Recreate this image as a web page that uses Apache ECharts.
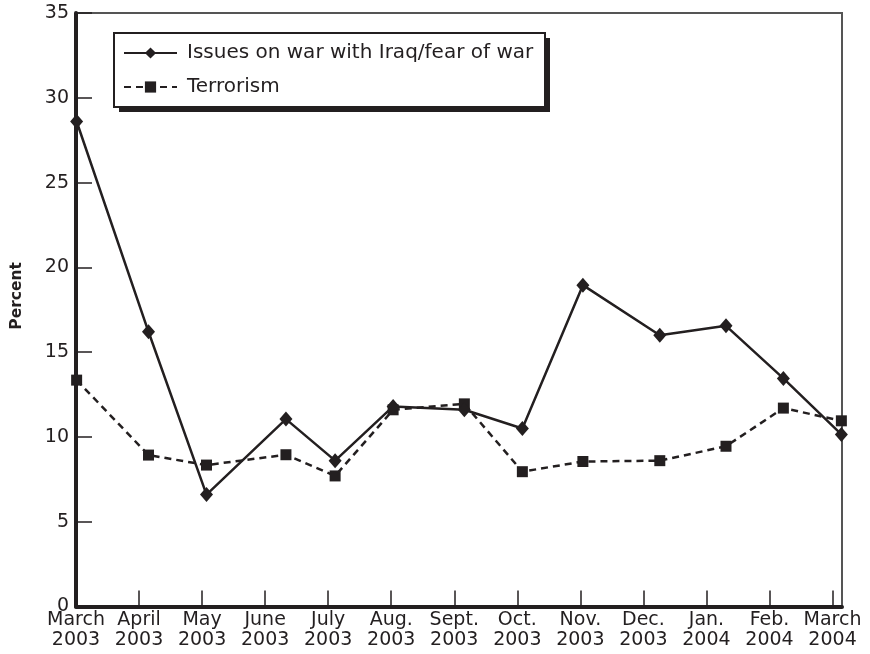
<!DOCTYPE html>
<html>
<head>
<meta charset="utf-8">
<script src="https://cdn.jsdelivr.net/npm/echarts@6/dist/echarts.min.js"></script>
<style>html,body{margin:0;padding:0;background:#fff;}#c{width:870px;height:654px;}</style>
</head>
<body>
<div id="c"></div>
<script>
// Tick labels (one per month tick, index 0..12)
const tickLabels = ['March\n2003','April\n2003','May\n2003','June\n2003','July\n2003','Aug.\n2003','Sept.\n2003','Oct.\n2003','Nov.\n2003','Dec.\n2003','Jan.\n2004','Feb.\n2004','March\n2004'];
// Survey positions along the month axis (month index, fractional = later in the month)
const surveyPos = [0.01, 1.15, 2.07, 3.33, 4.11, 5.03, 6.16, 7.08, 8.04, 9.26, 10.31, 11.22, 12.14];
// Series values (percent)
const iraqWar = [28.6, 16.2, 6.6, 11.05, 8.6, 11.8, 11.6, 10.5, 18.95, 16.0, 16.55, 13.45, 10.15];
const terrorism = [13.35, 8.93, 8.34, 8.95, 7.7, 11.6, 11.95, 7.95, 8.55, 8.6, 9.45, 11.7, 10.95];
const seriesNames = ['Issues on war with Iraq/fear of war', 'Terrorism'];
const yTicks = [0, 5, 10, 15, 20, 25, 30, 35];

const ink = '#231f20';
const font = 'DejaVu Sans';
const fs = 19;
const chart = echarts.init(document.getElementById('c'));
const pair = (xs, ys) => xs.map((x, i) => [x, ys[i]]);

chart.setOption({
  animation: false,
  backgroundColor: '#fff',
  textStyle: { fontFamily: font, color: ink },
  grid: { left: 76, right: 28, top: 13, bottom: 47.5, show: true, borderColor: '#555', borderWidth: 2, backgroundColor: 'transparent' },
  xAxis: {
    type: 'value', min: 0, max: 12.15, interval: 1,
    splitLine: { show: false },
    axisLine: { show: true, lineStyle: { color: ink, width: 4 } },
    axisTick: { show: true, inside: true, length: 16, lineStyle: { color: ink, width: 1.5 } },
    axisLabel: {
      margin: 4, fontSize: fs, lineHeight: 20, color: ink, fontFamily: font,
      showMaxLabel: false,
      formatter: v => (Math.abs(v - Math.round(v)) < 1e-6 ? (tickLabels[Math.round(v)] || '') : '')
    }
  },
  yAxis: {
    type: 'value', min: yTicks[0], max: yTicks[yTicks.length - 1], interval: 5,
    splitLine: { show: false },
    axisLine: { show: true, lineStyle: { color: ink, width: 4 } },
    axisTick: { show: true, inside: true, length: 16, lineStyle: { color: ink, width: 1.5 } },
    axisLabel: { margin: 7, fontSize: fs, color: ink, fontFamily: font }
  },
  legend: {
    orient: 'vertical', left: 114, top: 33, z: 10,
    padding: [10, 17, 10, 9], itemGap: 14, itemWidth: 53, itemHeight: 14,
    backgroundColor: 'transparent', borderWidth: 0,
    textStyle: { fontSize: 20, lineHeight: 20, color: ink, fontFamily: font, padding: [0, 0, 0, 5] },
    data: seriesNames
  },
  graphic: [
    { type: 'rect', z: 5, shape: { x: 119, y: 38, width: 431, height: 74 }, style: { fill: ink } },
    { type: 'rect', z: 6, shape: { x: 114, y: 33, width: 431, height: 74 }, style: { fill: '#fff', stroke: ink, lineWidth: 2 } },
    {
      type: 'text', left: 9, top: 262, rotation: Math.PI / 2,
      style: { text: 'Percent', font: 'bold 15.5px "DejaVu Sans"', fill: ink }
    }
  ],
  series: [
    {
      name: seriesNames[0], type: 'line', data: pair(surveyPos, iraqWar),
      symbol: 'diamond', symbolSize: [13, 15], showAllSymbol: true,
      lineStyle: { color: ink, width: 2.5, type: 'solid' },
      itemStyle: { color: ink }, z: 3
    },
    {
      name: seriesNames[1], type: 'line', data: pair(surveyPos, terrorism),
      symbol: 'rect', symbolSize: 11, showAllSymbol: true,
      lineStyle: { color: ink, width: 2.5, type: [7, 5] },
      itemStyle: { color: ink }, z: 2
    }
  ]
});
</script>
</body>
</html>
